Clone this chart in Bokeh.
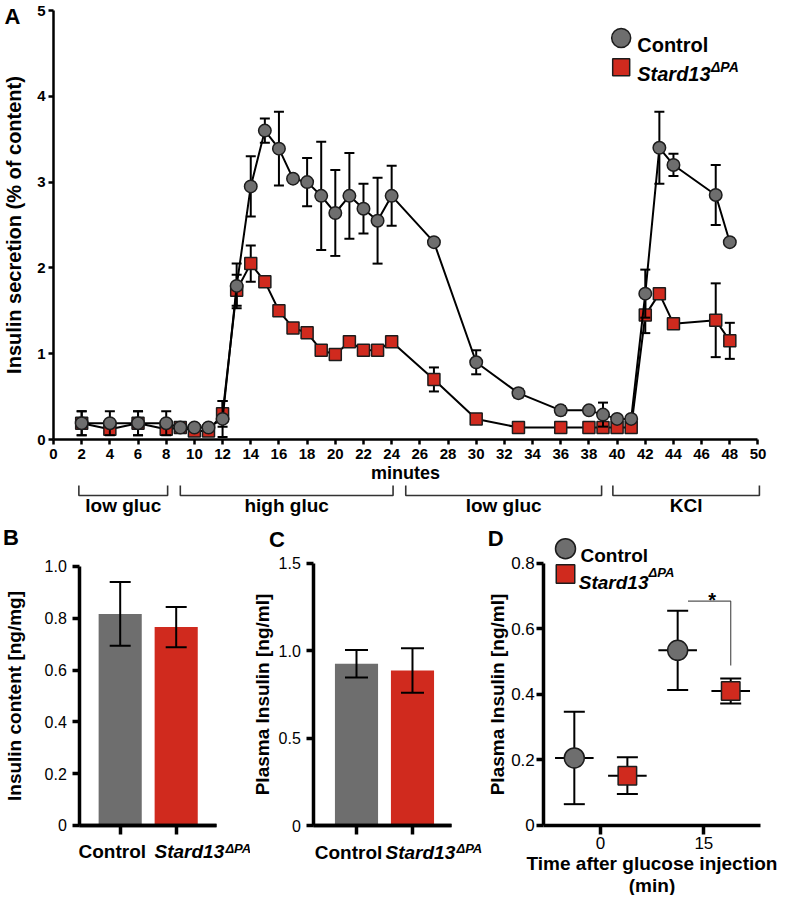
from bokeh.plotting import figure
from bokeh.models import Range1d, FixedTicker, Label, LinearAxis
from bokeh.layouts import column, row
from bokeh.core.properties import value
from bokeh.embed import file_html
from bokeh.resources import INLINE

FONT = "Liberation Sans"
GRAY = "#6e6e6e"
RED = "#d02a1e"
EDGE = "#1c1c1c"
NBSP = "\u00a0"

# ---------------- data: panel A (perifusion) ----------------
minutes = [2, 4, 6, 8, 9, 10, 11, 12, 13, 14, 15, 16, 17, 18, 19, 20, 21, 22, 23, 24,
           27, 30, 33, 36, 38, 39, 40, 41, 42, 43, 44, 47, 48]
ctrl_mean = [0.19, 0.19, 0.19, 0.19, 0.14, 0.14, 0.14, 0.24, 1.79, 2.95, 3.60, 3.39, 3.04, 3.00,
             2.84, 2.64, 2.84, 2.69, 2.55, 2.84, 2.30, 0.90, 0.54, 0.34, 0.34, 0.29, 0.24, 0.24,
             1.70, 3.40, 3.20, 2.85, 2.30]
ctrl_err = [0.14, 0.14, 0.14, 0.14, 0.02, 0.02, 0.02, 0.21, 0.26, 0.35, 0.14, 0.43, 0.04, 0.28,
            0.63, 0.50, 0.50, 0.29, 0.50, 0.35, 0.03, 0.14, 0.05, 0.05, 0.04, 0.14, 0.04, 0.04,
            0.28, 0.42, 0.13, 0.35, 0.03]
ko_mean = [0.19, 0.12, 0.19, 0.12, 0.14, 0.10, 0.10, 0.30, 1.74, 2.05, 1.84, 1.50, 1.30, 1.245,
           1.04, 0.99, 1.14, 1.04, 1.04, 1.14, 0.70, 0.24, 0.14, 0.14, 0.14, 0.14, 0.14, 0.14,
           1.45, 1.70, 1.35, 1.39, 1.15]
ko_err = [0.14, 0.03, 0.14, 0.03, 0.02, 0.02, 0.02, 0.15, 0.18, 0.21, 0.03, 0.03, 0.03, 0.03,
          0.03, 0.03, 0.03, 0.03, 0.03, 0.03, 0.14, 0.03, 0.02, 0.02, 0.02, 0.02, 0.02, 0.02,
          0.21, 0.03, 0.03, 0.43, 0.21]
a_xticks = list(range(0, 51, 2))
a_yticks = [0, 1, 2, 3, 4, 5]

phase_names = ["low gluc", "high gluc", "low gluc", "KCl"]
phase_start = [1.8, 9.0, 25.0, 39.7]
phase_end = [8.1, 24.1, 38.9, 50.1]

# ---------------- data: panels B, C ----------------
groups = ["Control", "Stard13"]
group_sup = "ΔPA"
content_mean = [0.817, 0.766]
content_err = [0.123, 0.078]
plasma_mean = [0.925, 0.886]
plasma_err = [0.079, 0.127]
b_yticks = [0, 0.2, 0.4, 0.6, 0.8, 1.0]
c_yticks = [0, 0.5, 1.0, 1.5]

# ---------------- data: panel D ----------------
times = [0, 15]
d_ctrl_mean = [0.206, 0.534]
d_ctrl_err = [0.141, 0.121]
d_ko_mean = [0.152, 0.410]
d_ko_err = [0.056, 0.038]
d_yticks = [0, 0.2, 0.4, 0.6, 0.8]


def style_axis(ax, lw, tick_out, size, style, standoff, lab_size=None, lab_standoff=0):
    ax.axis_line_width = lw
    ax.axis_line_color = "black"
    ax.major_tick_line_width = lw
    ax.major_tick_line_color = "black"
    ax.major_tick_out = tick_out
    ax.major_tick_in = 0
    ax.minor_tick_line_color = None
    ax.major_label_text_font = FONT
    ax.major_label_text_font_size = size
    ax.major_label_text_font_style = style
    ax.major_label_text_color = "black"
    ax.major_label_standoff = standoff
    if lab_size:
        ax.axis_label_text_font = FONT
        ax.axis_label_text_font_size = lab_size
        ax.axis_label_text_font_style = "bold"
        ax.axis_label_text_color = "black"
        ax.axis_label_standoff = lab_standoff


def errbars(p, x, y, e, cap, lw=2):
    lo = [a - b for a, b in zip(y, e)]
    hi = [a + b for a, b in zip(y, e)]
    p.segment(x0=x, y0=lo, x1=x, y1=hi, line_width=lw, line_color="black")
    p.scatter(x=list(x) + list(x), y=lo + hi, marker="dash", size=cap,
              line_width=lw, line_color="black")


def lab(p, x, y, text, size, style="bold", align="left", baseline="alphabetic", x_offset=0):
    p.add_layout(Label(x=x, y=y, text=text, text_font=FONT, text_font_size=size,
                       text_font_style=style, text_align=align, text_baseline=baseline,
                       text_color="black", x_offset=x_offset))


def base_fig(width, height, xr, yr):
    p = figure(width=width, height=height, x_range=Range1d(*xr), y_range=Range1d(*yr),
               output_backend="svg", toolbar_location=None,
               min_border=0, min_border_left=0, min_border_right=0,
               min_border_top=0, min_border_bottom=0)
    p.outline_line_color = None
    p.grid.visible = False
    p.background_fill_color = "white"
    p.border_fill_color = "white"
    return p


# ================= Panel A (incl. phase brackets) =================
pA = base_fig(782, 520, (-3.7615, 51.739), (-0.944, 5.1166))
xa, ya = pA.xaxis[0], pA.yaxis[0]
xa.fixed_location = 0
xa.bounds = (0, 50)
ya.fixed_location = 0
ya.bounds = (0, 5)
xa.ticker = FixedTicker(ticks=a_xticks)
ya.ticker = FixedTicker(ticks=a_yticks)
xa.axis_label = "minutes"
ya.axis_label = "Insulin secretion (% of content)"
style_axis(xa, 2.5, 5, "15px", "bold", 4, "18px", 1)
style_axis(ya, 2.5, 5, "15px", "bold", 3, "20px", 9)

errbars(pA, minutes, ko_mean, ko_err, 10)
pA.line(minutes, ko_mean, line_width=2, line_color="black")
pA.scatter(minutes, ko_mean, marker="square", size=12, fill_color=RED,
           line_color=EDGE, line_width=1.5)
errbars(pA, minutes, ctrl_mean, ctrl_err, 10)
pA.line(minutes, ctrl_mean, line_width=2, line_color="black")
pA.scatter(minutes, ctrl_mean, marker="circle", size=12.5, fill_color=GRAY,
           line_color=EDGE, line_width=1.5)

# legend A
pA.scatter([40.29], [4.68], marker="circle", size=19, fill_color=GRAY, line_color=EDGE, line_width=1.5)
pA.scatter([40.29], [4.34], marker="square", size=17, fill_color=RED, line_color=EDGE, line_width=1.5)
lab(pA, 41.43, 4.597, "Control", "20px")
lab(pA, 41.43, 4.261, groups[1], "20px", "bold italic")
lab(pA, 46.66, 4.339, group_sup, "14px", "bold italic")
lab(pA, -2.91, 4.93, "A", "22px", align="center", baseline="middle")

# phase brackets
pA.multi_line(xs=[[s, s, e, e] for s, e in zip(phase_start, phase_end)],
              ys=[[-0.536, -0.653, -0.653, -0.536] for _ in phase_start],
              line_color="#333333", line_width=1.6)
pA.text(x=[(s + e) / 2 for s, e in zip(phase_start, phase_end)], y=[-0.772] * len(phase_names),
        text=phase_names, text_font=value(FONT), text_font_size="19px",
        text_font_style="bold", text_align="center", text_baseline="middle", text_color="black")


# ================= Panels B and C (bars) =================
def bar_panel(width, xr, yr, yaxis_x, xmax, means, errs, cap, yticks, ylabel, y_lab_standoff,
              pad, sup_y, letter, letter_xy):
    p = base_fig(width, 375, xr, yr)
    xg = list(range(len(groups)))
    p.vbar(x=xg, top=means, width=0.77, fill_color=[GRAY, RED], line_color=None)
    errbars(p, xg, means, errs, cap)
    ya = p.yaxis[0]
    ya.fixed_location = yaxis_x
    ya.bounds = (0, yticks[-1])
    ya.ticker = FixedTicker(ticks=yticks)
    ya.major_label_overrides = {0: "0", 1: "1.0"}
    ya.axis_label = ylabel
    style_axis(ya, 3.5, 7, "16px", "normal", 6, "19px", y_lab_standoff)
    # one category axis per group so each name keeps its own font style
    xa = p.xaxis[0]
    xa.fixed_location = 0
    xa.bounds = (yaxis_x, xmax)
    xa.ticker = FixedTicker(ticks=[0])
    xa.major_label_overrides = {0: groups[0] + NBSP * 3}
    style_axis(xa, 3.5, 9, "19px", "bold", 7)
    xb = LinearAxis(fixed_location=0, bounds=(yaxis_x, xmax), ticker=FixedTicker(ticks=[1]),
                    major_label_overrides={1: NBSP * pad + groups[1]})
    p.add_layout(xb, "below")
    style_axis(xb, 3.5, 9, "19px", "bold italic", 7)
    lab(p, 1, sup_y, group_sup, "13px", "bold italic", x_offset=36 + pad * 2.64)
    lab(p, letter_xy[0], letter_xy[1], letter, "22px", align="center", baseline="middle")
    return p


pB = bar_panel(250, (-2.1375, 2.327), (-0.2703, 1.1776), -0.7214, 1.72,
               content_mean, content_err, 21, b_yticks, "Insulin content [ng/mg]", 16,
               5, -0.09, "B", (-1.95, 1.112))
pC = bar_panel(234, (-1.893, 2.286), (-0.4002, 1.744), -0.7625, 1.696,
               plasma_mean, plasma_err, 23, c_yticks, "Plasma Insulin [ng/ml]", 2,
               3, -0.133, "C", (-1.42, 1.635))

# ================= Panel D =================
pD = base_fig(298, 375, (-16.836, 26.415), (-0.2135, 0.930))
xc = [t - 3.8 for t in times]
xk = [t + 3.9 for t in times]
for xs, ys, es in ((xc, d_ctrl_mean, d_ctrl_err), (xk, d_ko_mean, d_ko_err)):
    errbars(pD, xs, ys, es, 21)
    pD.segment(x0=[x - 2.8 for x in xs], y0=ys, x1=[x + 2.8 for x in xs], y1=ys,
               line_width=2, line_color="black")
pD.scatter(xc, d_ctrl_mean, marker="circle", size=20, fill_color=GRAY, line_color=EDGE, line_width=1.5)
pD.scatter(xk, d_ko_mean, marker="square", size=18.5, fill_color=RED, line_color=EDGE, line_width=1.5)
# significance bracket
pD.line(x=[xc[1] + 1.5, xk[1], xk[1]], y=[0.684, 0.684, 0.488], line_color="#555555", line_width=1.2)
lab(pD, (xc[1] + 1.5 + xk[1]) / 2 + 0.4, 0.687, "*", "20px", align="center")
xd, yd = pD.xaxis[0], pD.yaxis[0]
xd.fixed_location = 0
xd.bounds = (-8.229, 23.2)
yd.fixed_location = -8.229
yd.bounds = (0, 0.8)
xd.ticker = FixedTicker(ticks=times)
yd.ticker = FixedTicker(ticks=d_yticks)
yd.major_label_overrides = {0: "0"}
yd.axis_label = "Plasma Insulin [ng/ml]"
xd.axis_label = "Time after glucose injection\n(min)"
style_axis(xd, 3.5, 9, "17px", "normal", 3, "19px", 0)
xd.axis_label_text_line_height = 1.05
style_axis(yd, 3.5, 7, "17px", "normal", 2, "19px", 0)
# legend D
pD.scatter([-5.08], [0.844], marker="circle", size=20, fill_color=GRAY, line_color=EDGE, line_width=1.5)
pD.scatter([-5.08], [0.767], marker="square", size=18.5, fill_color=RED, line_color=EDGE, line_width=1.5)
lab(pD, -2.9, 0.823, "Control", "19px")
lab(pD, -3.15, 0.742, groups[1], "19px", "bold italic")
lab(pD, 6.97, 0.771, group_sup, "13px", "bold italic")
lab(pD, -15.2, 0.874, "D", "22px", align="center", baseline="middle")

layout = column(pA, row(pB, pC, pD))
open("out.html", "w").write(file_html(layout, INLINE))
